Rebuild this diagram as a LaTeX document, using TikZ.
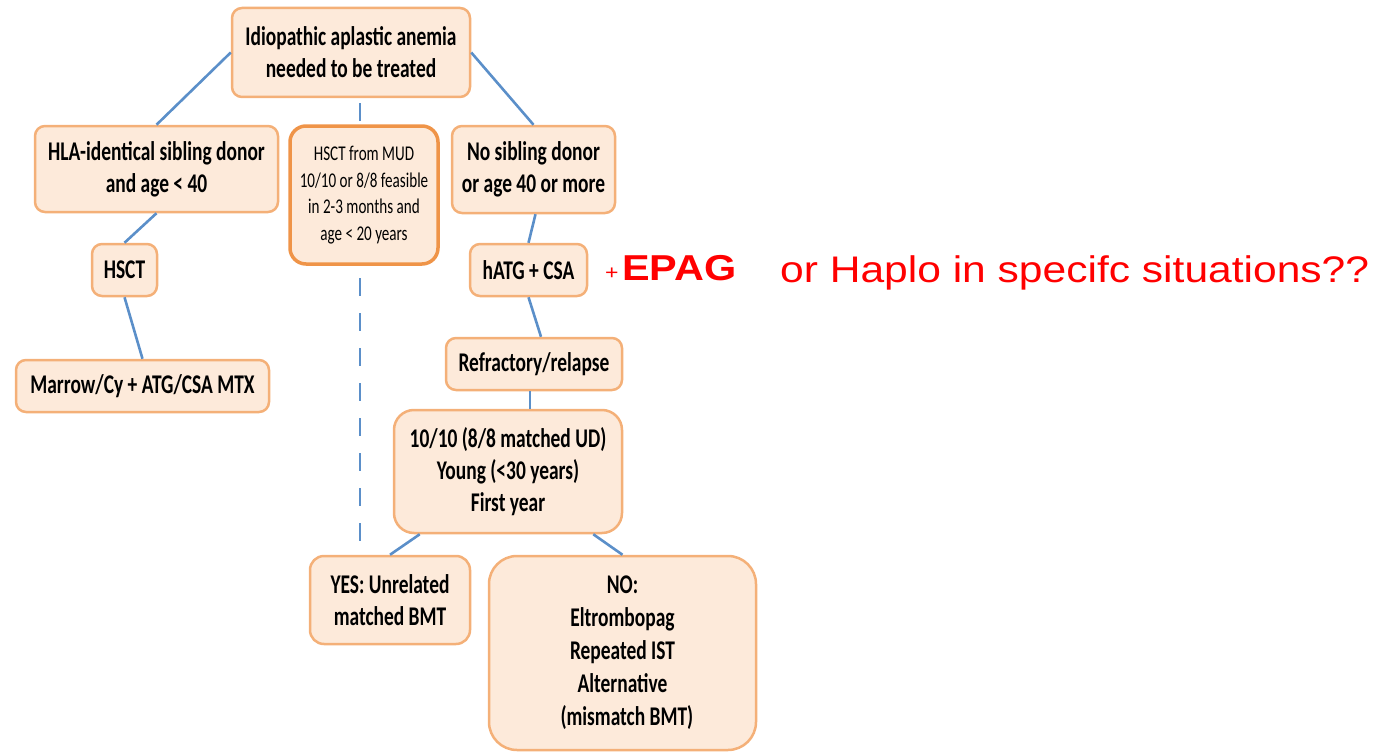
\documentclass[tikz,border=0pt]{standalone}
\usepackage{fontspec}
\usetikzlibrary{backgrounds,calc}
\newfontfamily\bxfont{Carlito}[FakeStretch=0.72]
\newfontfamily\redfont{Liberation Sans}[FakeStretch=1.15]
\definecolor{boxfill}{HTML}{FDEADA}
\definecolor{boxline}{HTML}{F4B078}
\definecolor{mudline}{HTML}{EF9448}
\definecolor{conn}{HTML}{5B8FC9}
\definecolor{redtxt}{HTML}{FF0000}
\tikzset{
  fbox/.style={draw=boxline, fill=boxfill, line width=2.5pt, rounded corners=10pt,
    align=center, inner sep=0pt, font=\bxfont\bfseries\fontsize{27}{32}\selectfont},
  conline/.style={draw=conn, line width=2.6pt},
}
\begin{document}
\begin{tikzpicture}[x=1pt,y=-1pt]
\useasboundingbox (0,0) rectangle (1385,752);
\node[fbox, minimum width=238pt, minimum height=89pt] (top) at (351,52.5) {Idiopathic aplastic anemia\\needed to be treated};
\node[fbox, minimum width=243pt, minimum height=86pt] (hla) at (156.5,169) {HLA-identical sibling donor\\and age < 40};
\node[fbox, draw=mudline, line width=3.5pt, rounded corners=16pt, minimum width=148pt, minimum height=138pt,
  font=\bxfont\fontsize{21}{26.5}\selectfont] (mud) at (364,195) {HSCT from MUD\\10/10 or 8/8 feasible\\in 2-3 months and\\age < 20 years};
\node[fbox, minimum width=163pt, minimum height=87pt] (nosib) at (533.5,169.5) {No sibling donor\\or age 40 or more};
\node[fbox, minimum width=65pt, minimum height=52pt] (hsct) at (124.5,270) {HSCT};
\node[fbox, minimum width=117pt, minimum height=52pt] (hatg) at (528.5,270) {hATG + CSA};
\node[fbox, minimum width=253pt, minimum height=52pt] (marrow) at (142.5,386) {Marrow/Cy + ATG/CSA MTX};
\node[fbox, minimum width=176pt, minimum height=52pt] (refr) at (534,364) {Refractory/relapse};
\node[fbox, rounded corners=20pt, minimum width=228pt, minimum height=123pt] (ten) at (508,471.5) {10/10 (8/8 matched UD)\\Young (<30 years)\\First year};
\node[fbox, rounded corners=14pt, minimum width=160pt, minimum height=88pt] (yes) at (390,600) {YES: Unrelated\\matched BMT};
\node[fbox, rounded corners=28pt, minimum width=267pt, minimum height=194pt, font=\bxfont\bfseries\fontsize{27}{33}\selectfont] (no) at (622.5,653) {NO:\\Eltrombopag\\Repeated IST\\Alternative\\\ \ (mismatch BMT)};
% red annotations
\node[anchor=base west, inner sep=0pt, text=redtxt, font=\redfont\fontsize{20}{24}\selectfont] (plus) at (605,279) {+};
\node[anchor=base west, inner sep=0pt, text=redtxt, font=\redfont\bfseries\fontsize{36}{40}\selectfont] (epag) at (622,280) {EPAG};
\node[anchor=base west, inner sep=0pt, text=redtxt, font=\redfont\fontsize{37}{42}\selectfont] (haplo) at (780,282) {or Haplo in specifc situations??};
% connectors
\draw[conline] (top.west) -- (hla.north);
\draw[conline] (top.east) -- (nosib.north);
\draw[conline] (hla.south) -- (hsct.north);
\draw[conline] (hsct.south) -- (marrow.north);
\draw[conline] ([xshift=2pt]nosib.south) -- (hatg.north);
\draw[conline] (hatg.south) -- ([xshift=7pt]refr.north);
\draw[conline] ([xshift=-4pt]refr.south) -- ([xshift=-4pt]refr.south |- ten.north);
\draw[conline] ($(ten.south west)+(27,0)$) -- (yes.north);
\draw[conline] ($(ten.south east)+(-30,0)$) -- (no.north);
\begin{scope}[on background layer]
\coordinate (dstart) at ([xshift=9pt,yshift=-5pt]top.south);
\draw[conline, dash pattern=on 18pt off 17pt] (dstart) -- (dstart |- yes.north);
\end{scope}
\end{tikzpicture}
\end{document}
